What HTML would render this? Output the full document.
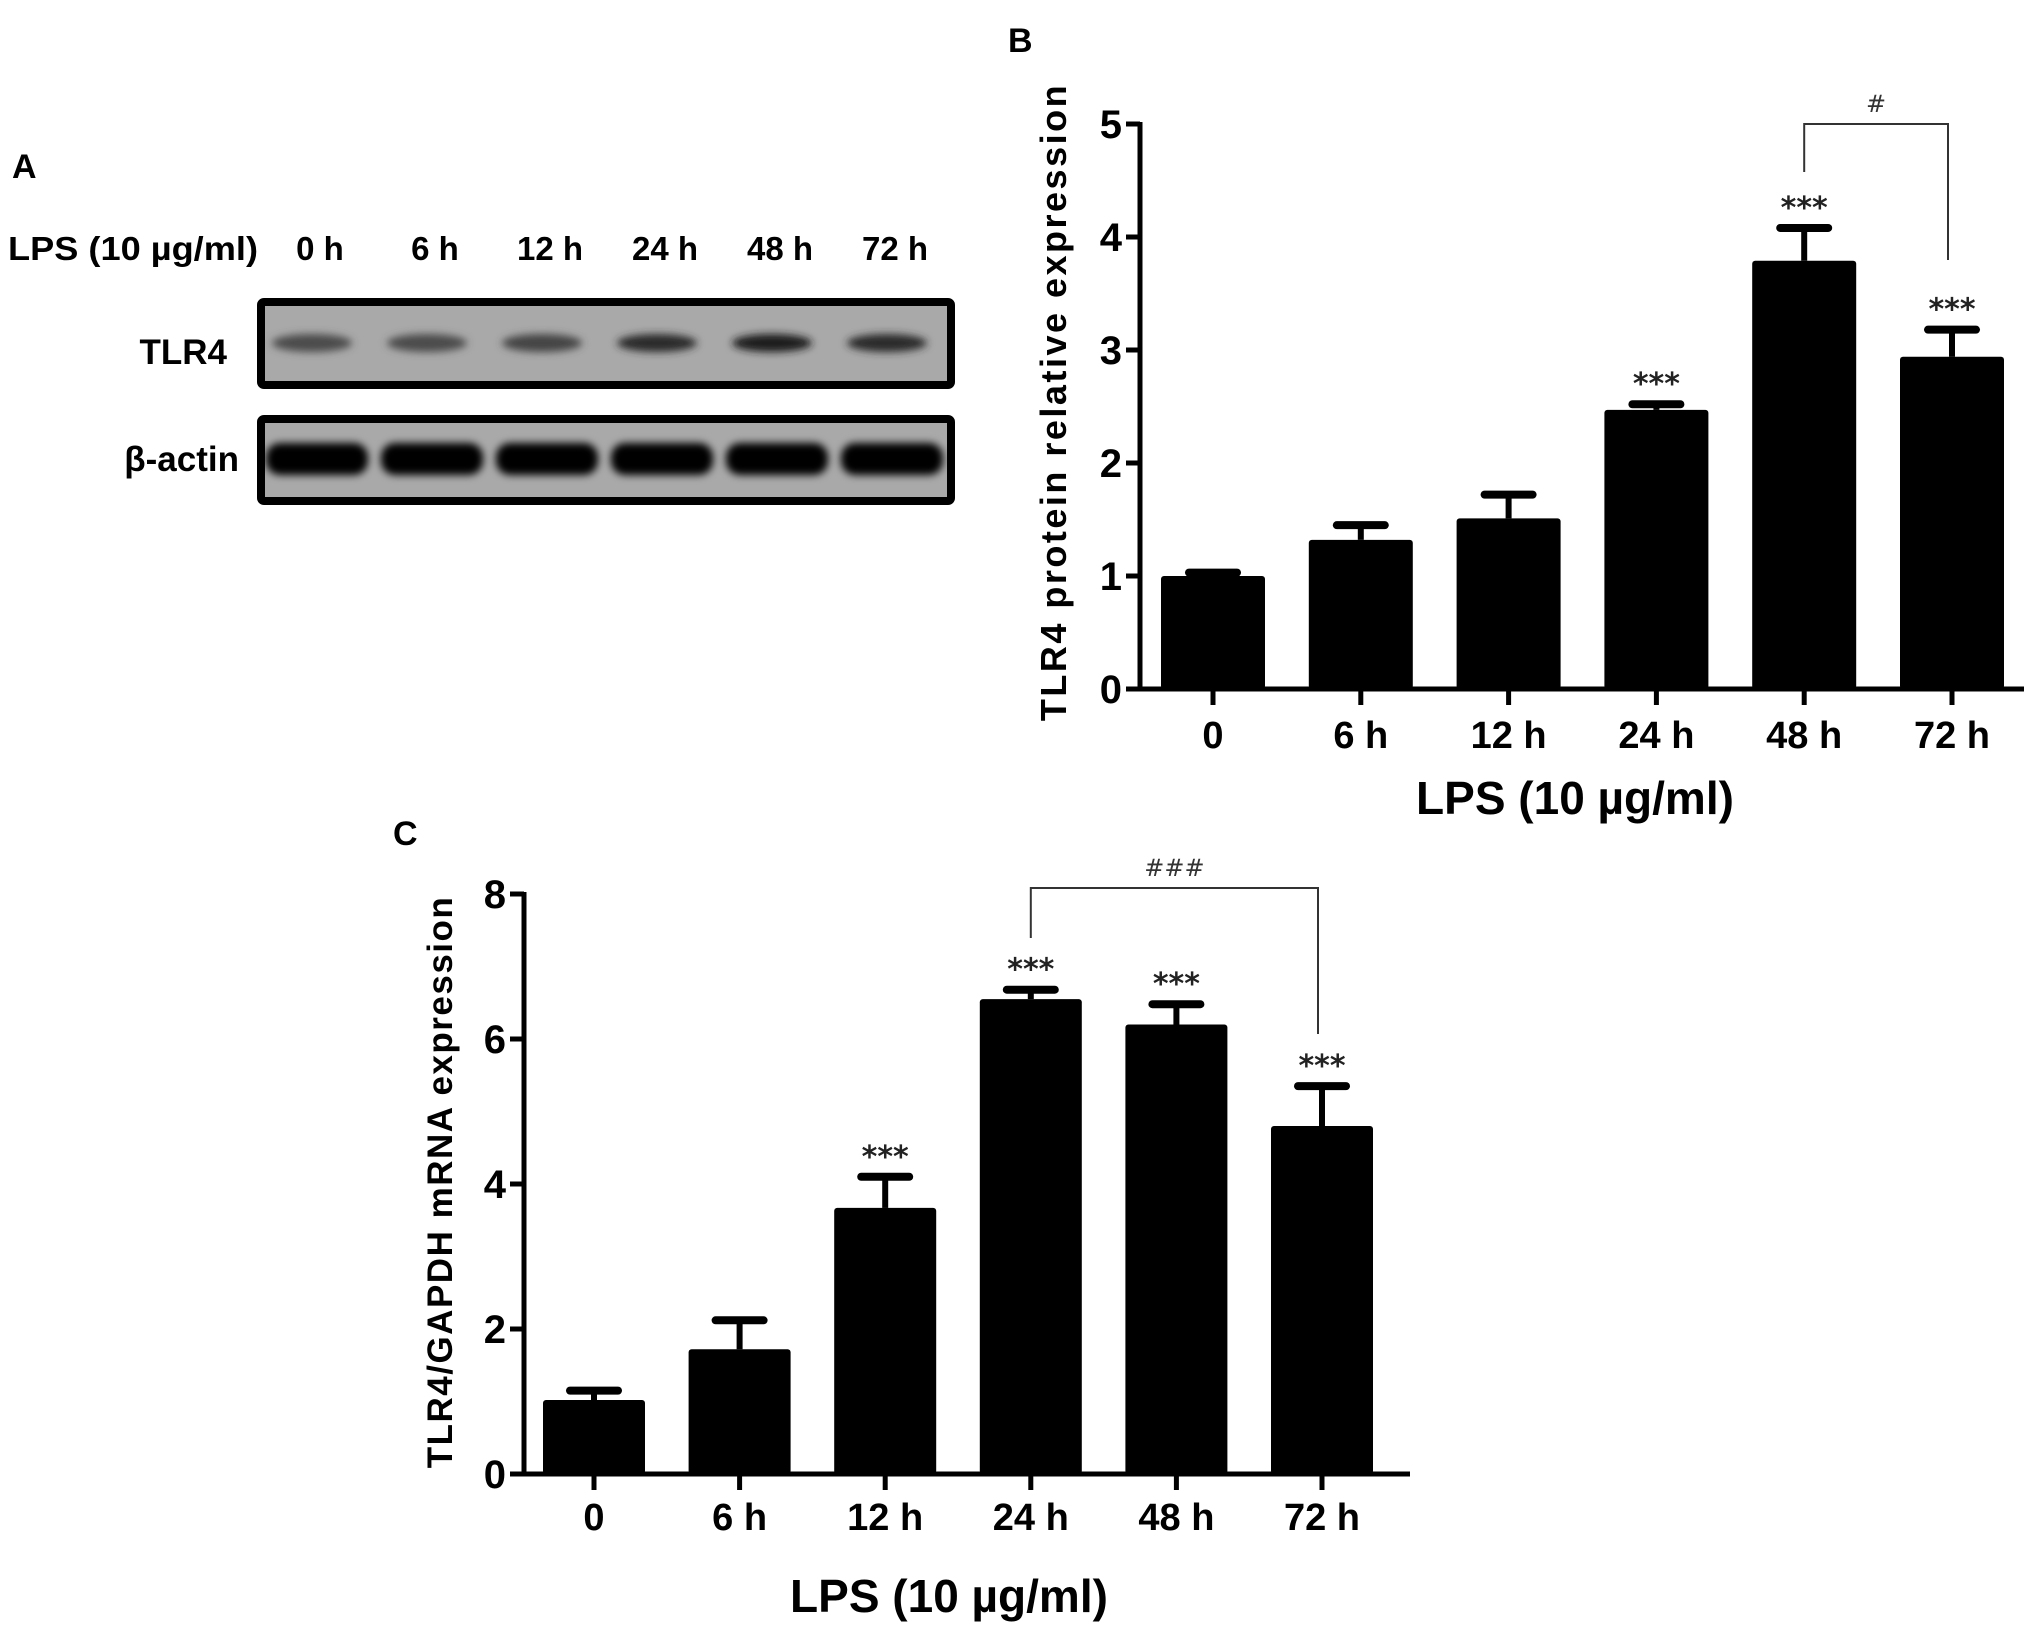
<!DOCTYPE html>
<html><head><meta charset="utf-8"><style>
body{margin:0;background:#fff;}
svg{display:block;font-family:"Liberation Sans Narrow","Liberation Sans",sans-serif;font-weight:bold;}
</style></head><body>
<svg id="fig" width="2031" height="1635" viewBox="0 0 2031 1635" xmlns="http://www.w3.org/2000/svg">
<defs>
<filter id="blur" x="-20%" y="-50%" width="140%" height="200%"><feGaussianBlur stdDeviation="4"/></filter>
</defs>
<text x="12" y="178" font-size="34">A</text>
<g id="panelA"></g>
<text x="1008" y="52" font-size="34">B</text>
<g id="panelB"></g>
<text x="393" y="845" font-size="34">C</text>
<g id="panelC"></g>
</svg>
<script>
const categories = ["0","6 h","12 h","24 h","48 h","72 h"];
const blotLanes = ["0 h","6 h","12 h","24 h","48 h","72 h"];
const tlr4Intensity = [0.55,0.55,0.6,0.75,0.85,0.75];
const protValues = [1.0,1.32,1.51,2.47,3.79,2.94];
const protErrors = [0.03,0.13,0.21,0.05,0.29,0.24];
const protSig = ["","","","***","***","***"];
const protTicks = [0,1,2,3,4,5];
const mrnaValues = [1.02,1.72,3.67,6.55,6.2,4.8];
const mrnaErrors = [0.13,0.4,0.43,0.13,0.28,0.55];
const mrnaSig = ["","","***","***","***","***"];
const mrnaTicks = [0,2,4,6,8];

const NS="http://www.w3.org/2000/svg";
function mk(tag, attrs, parent, text){
  const e=document.createElementNS(NS,tag);
  for(const k in attrs) e.setAttribute(k,attrs[k]);
  if(text!==undefined) e.textContent=text;
  parent.appendChild(e); return e;
}

(function(){
  const g=document.getElementById('panelA');
  const laneX = i => 320 + i*115;
  let t=mk('text',{x:8,y:260,'font-size':33,textLength:250,lengthAdjust:'spacingAndGlyphs'},g,"LPS (10 µg/ml)");
  
  
  blotLanes.forEach((l,i)=>{
    const e=mk('text',{x:laneX(i),y:260,'font-size':33,'text-anchor':'middle'},g,l);
    
    
  });
  const b1=mk('rect',{x:261,y:302,width:690,height:83,fill:'#a9a9a9',stroke:'#000','stroke-width':8,rx:3},g);
  
  
  const b2=mk('rect',{x:261,y:419,width:690,height:82,fill:'#a9a9a9',stroke:'#000','stroke-width':8,rx:3},g);
  
  
  let l1=mk('text',{x:227,y:364,'font-size':35,'text-anchor':'end'},g,"TLR4");
  
  
  let l2=mk('text',{x:239,y:471,'font-size':35,'text-anchor':'end'},g,"β-actin");
  
  
  blotLanes.forEach((l,i)=>{
    const c=Math.round(170*(1-tlr4Intensity[i]));
    const e=mk('ellipse',{cx:laneX(i)-8,cy:343,rx:40,ry:9,fill:`rgb(${c},${c},${c})`,filter:'url(#blur)'},g);
    
    
    const a=mk('rect',{x:laneX(i)-54,y:443,width:102,height:32,rx:14,fill:'#050505',filter:'url(#blur)'},g);
    
    
  });
})();

function drawChart(g, o){
  const y = v => o.y0 - v*(o.y0-o.yTop)/o.max;
  const x = i => o.x0c + i*o.step;
  o.values.forEach((v,i)=>{
    const top=y(v+o.errors[i]);
    const el=mk('line',{x1:x(i),x2:x(i),y1:y(v),y2:top,stroke:'#000','stroke-width':6},g);
    
    
    const cap=mk('line',{x1:x(i)-24,x2:x(i)+24,y1:top,y2:top,stroke:'#000','stroke-width':8,'stroke-linecap':'round'},g);
    
    
    const b=mk('rect',{x:x(i)-o.bw/2,y:y(v),width:o.bw,height:o.y0-y(v),fill:'#000',rx:3},g);
    
    
    if(o.sig[i]){
      const s=mk('text',{x:x(i),y:top-10,'font-size':30,'text-anchor':'middle','font-family':'"DejaVu Sans",sans-serif','font-weight':'bold',fill:'#222'},g,o.sig[i]);
      
      
    }
  });
  const ya=mk('line',{x1:o.axX,x2:o.axX,y1:o.yTop-2,y2:o.y0+2,stroke:'#000','stroke-width':5},g);
  
  
  const xa=mk('line',{x1:o.axX-14,x2:o.axEnd,y1:o.y0,y2:o.y0,stroke:'#000','stroke-width':5},g);
  
  
  o.ticks.forEach(t=>{
    const tk=mk('line',{x1:o.axX-14,x2:o.axX,y1:y(t),y2:y(t),stroke:'#000','stroke-width':5},g);
    
    
    const tl=mk('text',{x:o.axX-18,y:y(t)+14,'font-size':40,'text-anchor':'end'},g,String(t));
    
    
  });
  categories.forEach((c,i)=>{
    const tk=mk('line',{x1:x(i),x2:x(i),y1:o.y0,y2:o.y0+16,stroke:'#000','stroke-width':5},g);
    
    
    const tl=mk('text',{x:x(i),y:o.xLabY,'font-size':38,'text-anchor':'middle'},g,c);
    
    
  });
  const xt=mk('text',{x:o.xTitleX,y:o.xTitleY,'font-size':46,'text-anchor':'middle'},g,"LPS (10 µg/ml)");
  
  
  const yt=mk('text',{x:0,y:0,'font-size':o.ytSize,'text-anchor':'middle','letter-spacing':o.ytLs,transform:`translate(${o.ytX},${o.ytY}) rotate(-90)`},g,o.yTitle);
  
  
  const bx1=x(o.br[0]), bx2=x(o.br[1])-4;
  const bp=mk('polyline',{points:`${bx1},${o.brL} ${bx1},${o.brY} ${bx2},${o.brY} ${bx2},${o.brR}`,fill:'none',stroke:'#333','stroke-width':2},g);
  
  
  const bt=mk('text',{x:(bx1+bx2)/2,y:o.brY-12,'font-size':24,'text-anchor':'middle','font-family':'"DejaVu Sans",sans-serif','font-weight':'normal',fill:'#333'},g,o.brText);
  
  
}

drawChart(document.getElementById('panelB'),{
  values:protValues, errors:protErrors, sig:protSig, ticks:protTicks, max:5,
  y0:689, yTop:124, axX:1140, axEnd:2024, x0c:1213, step:147.8, bw:104,
  xLabY:748, xTitleX:1575, xTitleY:814,
  ytX:1066, ytY:402, ytSize:36, ytLs:2.5, yTitle:"TLR4  protein relative expression",
  br:[4,5], brY:124, brL:172, brR:260, brText:"#"
});
drawChart(document.getElementById('panelC'),{
  values:mrnaValues, errors:mrnaErrors, sig:mrnaSig, ticks:mrnaTicks, max:8,
  y0:1474, yTop:894, axX:524, axEnd:1410, x0c:594, step:145.6, bw:102,
  xLabY:1530, xTitleX:949, xTitleY:1612,
  ytX:452, ytY:1182, ytSize:35, ytLs:1.5, yTitle:"TLR4/GAPDH mRNA expression",
  br:[3,5], brY:888, brL:938, brR:1034, brText:"###"
});
</script>
</body></html>
